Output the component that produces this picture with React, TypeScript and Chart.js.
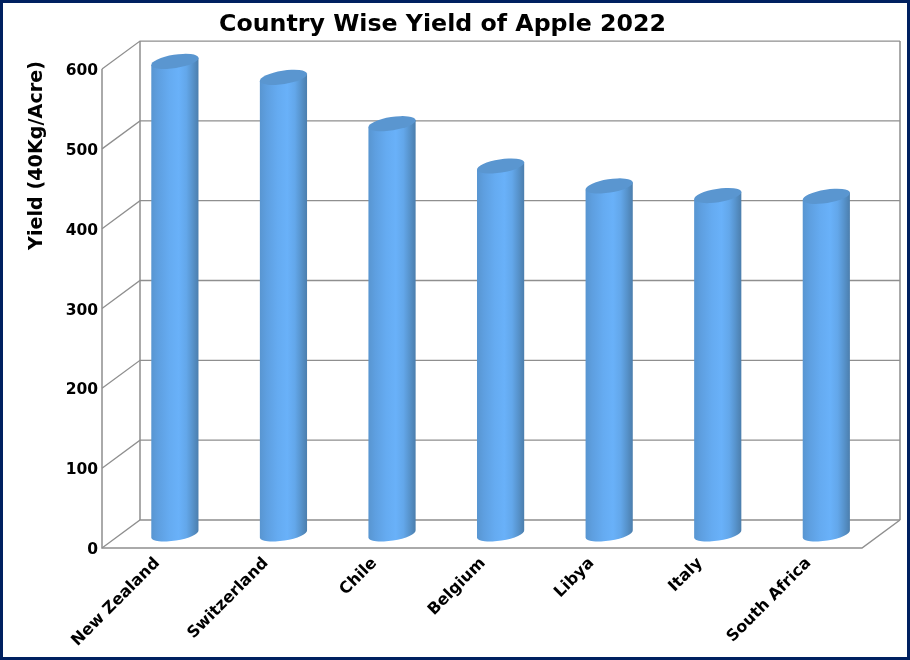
import React, { useEffect, useRef } from "react";
import { Chart, registerables } from "chart.js";

Chart.register(...registerables);

const categories = ["New Zealand", "Switzerland", "Chile", "Belgium", "Libya", "Italy", "South Africa"];
const yieldValues = [592, 572, 514, 461, 436, 424, 423];
const chartTitle = "Country Wise Yield of Apple 2022";
const yTitle = "Yield (40Kg/Acre)";
const FONT = "'DejaVu Sans'";

const DX = 38;
const DY = -28;
const LINE = "#8f8f8f";

const threeD = {
  id: "threeD",
  beforeDraw(chart: any) {
    const c = chart.ctx;
    c.save();
    c.fillStyle = "#fff";
    c.fillRect(0, 0, chart.width, chart.height);
    c.restore();
  },
  beforeDatasetsDraw(chart: any) {
    const c = chart.ctx;
    const { x, y } = chart.scales;
    const l = x.left, r = x.right;
    c.save();
    c.strokeStyle = LINE;
    c.lineWidth = 1.3;
    const base = y.getPixelForValue(0);
    const top = y.getPixelForValue(y.max);
    y.ticks.forEach((t: any) => {
      const py = y.getPixelForValue(t.value);
      c.beginPath();
      c.moveTo(l, py);
      c.lineTo(l + DX, py + DY);
      c.lineTo(r + DX, py + DY);
      c.stroke();
    });
    c.lineWidth = 1.5;
    c.beginPath();
    c.moveTo(l, top); c.lineTo(l, base); c.lineTo(r, base); c.lineTo(r + DX, base + DY);
    c.moveTo(l + DX, top + DY); c.lineTo(l + DX, base + DY);
    c.moveTo(r + DX, top + DY); c.lineTo(r + DX, base + DY);
    c.stroke();
    c.restore();
  },
  afterDatasetsDraw(chart: any) {
    const c = chart.ctx;
    const bars = chart.getDatasetMeta(0).data;
    const tilt = (-9 * Math.PI) / 180;
    bars.forEach((b: any) => {
      const cx = b.x + DX / 2 - 0.4;
      const a = b.width / 2;
      const minor = a * 0.28;
      const topY = b.y + DY / 2;
      const botY = b.base + DY / 2;
      const g = c.createLinearGradient(cx - a, 0, cx + a, 0);
      g.addColorStop(0, "#5895d0");
      g.addColorStop(0.15, "#5e9fe0");
      g.addColorStop(0.38, "#65abf1");
      g.addColorStop(0.58, "#69b1f9");
      g.addColorStop(0.74, "#63a7ea");
      g.addColorStop(0.87, "#5793cc");
      g.addColorStop(1, "#4b7dab");
      c.save();
      c.fillStyle = g;
      c.beginPath();
      c.ellipse(cx, botY, a, minor, tilt, Math.PI, 0, true);
      c.lineTo(cx + a * Math.cos(tilt), topY + a * Math.sin(tilt));
      c.lineTo(cx - a * Math.cos(tilt), topY - a * Math.sin(tilt));
      c.closePath();
      c.fill();
      c.fillStyle = "#5a96d0";
      c.beginPath();
      c.ellipse(cx, topY, a, minor, tilt, 0, Math.PI * 2);
      c.fill();
      c.restore();
    });
  },
  afterDraw(chart: any) {
    const c = chart.ctx;
    c.save();
    c.font = `bold 19.2px ${FONT}`;
    c.fillStyle = "#000";
    c.textAlign = "center";
    c.textBaseline = "middle";
    c.translate(37, 155.5);
    c.rotate(-Math.PI / 2);
    c.fillText(chart.options.scales.y.title.text, 0, 0);
    c.restore();
  },
};

export default function App() {
  const ref = useRef<HTMLCanvasElement>(null);
  useEffect(() => {
    document.body.style.margin = "0";
    const chart = new Chart(ref.current as HTMLCanvasElement, {
      type: "bar",
      data: {
        labels: categories,
        datasets: [
          {
            label: "Yield",
            data: yieldValues,
            backgroundColor: "rgba(0,0,0,0)",
            barPercentage: 0.44,
            categoryPercentage: 1,
          },
        ],
      },
      plugins: [threeD],
      options: {
        animation: false,
        responsive: false,
        devicePixelRatio: 1,
        layout: { autoPadding: false, padding: { left: 23, right: 48, top: 11, bottom: 0 } },
        plugins: {
          legend: { display: false },
          tooltip: { enabled: false },
          title: {
            display: true,
            text: chartTitle,
            color: "#000",
            font: { family: FONT, size: 23.7, weight: "bold" },
            padding: { top: 0, bottom: 29.6 },
          },
        },
        scales: {
          x: {
            afterFit(s: any) { s.height = 112; },
            border: { display: false },
            grid: { display: false, drawTicks: false },
            ticks: {
              color: "#000",
              font: { family: FONT, size: 16, weight: "bold" },
              minRotation: 45,
              maxRotation: 45,
              autoSkip: false,
              padding: 6,
              labelOffset: 1,
            },
          },
          y: {
            min: 0,
            max: 600,
            afterFit(s: any) { s.width = 79; },
            title: { display: false, text: yTitle },
            border: { display: false },
            grid: { display: false, drawTicks: false },
            ticks: {
              stepSize: 100,
              color: "#000",
              font: { family: FONT, size: 15.5, weight: "bold" },
              padding: 4,
              labelOffset: 2,
            },
          },
        },
      },
    } as any);
    return () => chart.destroy();
  }, []);
  return (
    <div style={{ position: "absolute", left: 0, top: 0, width: 910, height: 660 }}>
      <canvas ref={ref} width={910} height={660} style={{ display: "block" }} />
      <div
        style={{
          position: "absolute",
          inset: 0,
          boxSizing: "border-box",
          border: "3px solid #002060",
          pointerEvents: "none",
        }}
      />
    </div>
  );
}
